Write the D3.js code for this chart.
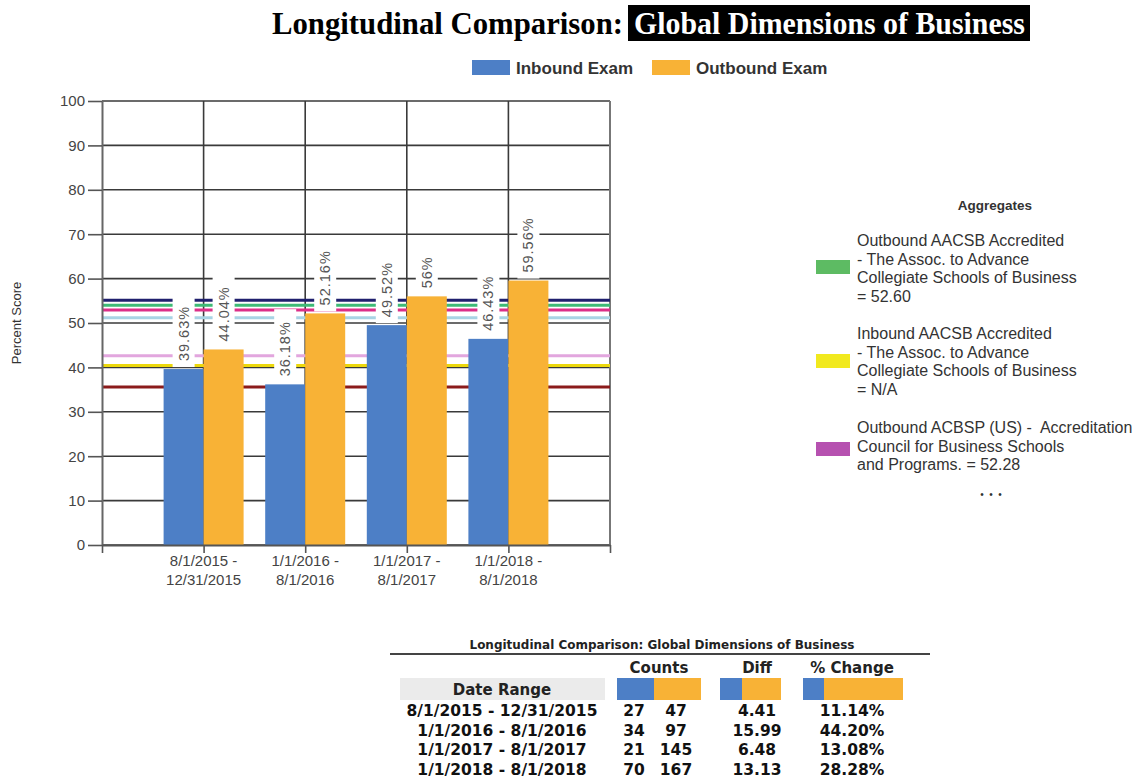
<!DOCTYPE html>
<html>
<head>
<meta charset="utf-8">
<script src="https://cdn.jsdelivr.net/npm/d3@7"></script>
<style>
  body { margin: 0; background: #fff; }
  svg { display: block; }
</style>
</head>
<body>
<svg id="chart" width="1148" height="784"></svg>
<script>
// ---- data ----
const categories = [
  ["8/1/2015 -", "12/31/2015"],
  ["1/1/2016 -", "8/1/2016"],
  ["1/1/2017 -", "8/1/2017"],
  ["1/1/2018 -", "8/1/2018"]
];
const seriesNames = ["Inbound Exam", "Outbound Exam"];
const inboundScores = [39.63, 36.18, 49.52, 46.43];
const outboundScores = [44.04, 52.16, 56, 59.56];
const yTicks = [0, 10, 20, 30, 40, 50, 60, 70, 80, 90, 100];

// aggregate reference lines
const aggregateValues = [55.1, 54.0, 52.9, 51.2, 42.6, 40.4, 35.6];

// aggregate legend (first entries of the list)
const aggregateLabels = [
  ["Outbound AACSB Accredited", "- The Assoc. to Advance", "Collegiate Schools of Business", "= 52.60"],
  ["Inbound AACSB Accredited", "- The Assoc. to Advance", "Collegiate Schools of Business", "= N/A"],
  ["Outbound ACBSP (US) -  Accreditation", "Council for Business Schools", "and Programs. = 52.28"]
];

// summary table
const tableTitle = "Longitudinal Comparison: Global Dimensions of Business";
const dateRanges = ["8/1/2015 - 12/31/2015", "1/1/2016 - 8/1/2016", "1/1/2017 - 8/1/2017", "1/1/2018 - 8/1/2018"];
const inboundCounts = [27, 34, 21, 70];
const outboundCounts = [47, 97, 145, 167];
const scoreDiffs = ["4.41", "15.99", "6.48", "13.13"];
const percentChanges = ["11.14%", "44.20%", "13.08%", "28.28%"];

// ---- styling ----
const seriesColors = ["#4d7fc6", "#f8b236"];
const aggregateColors = ["#20206e", "#3eba76", "#dc2f88", "#a8d3e4", "#e2a6de", "#ecd80c", "#8b1b1b"];
const aggregateLegendColors = ["#5dbb63", "#f1e91e", "#b651b0"];

const svg = d3.select("#chart");
svg.append("rect").attr("width", 1148).attr("height", 784).attr("fill", "#fff");

// ---- title ----
const titleY = 34;
svg.append("text")
  .attr("x", 272).attr("y", titleY)
  .attr("font-family", "Liberation Serif, Times New Roman, serif")
  .attr("font-weight", "bold").attr("font-size", 32)
  .attr("textLength", 351).attr("lengthAdjust", "spacingAndGlyphs")
  .attr("fill", "#000")
  .text("Longitudinal Comparison:");
svg.append("rect").attr("x", 628).attr("y", 5).attr("width", 402).attr("height", 36).attr("fill", "#000");
svg.append("text")
  .attr("x", 634).attr("y", titleY)
  .attr("font-family", "Liberation Serif, Times New Roman, serif")
  .attr("font-weight", "bold").attr("font-size", 32)
  .attr("textLength", 391).attr("lengthAdjust", "spacingAndGlyphs")
  .attr("fill", "#fff")
  .text("Global Dimensions of Business");

// ---- series legend ----
const legendItems = [
  { name: seriesNames[0], color: seriesColors[0], x: 472 },
  { name: seriesNames[1], color: seriesColors[1], x: 652 }
];
legendItems.forEach(d => {
  svg.append("rect").attr("x", d.x).attr("y", 60).attr("width", 38).attr("height", 15).attr("fill", d.color);
  svg.append("text").attr("x", d.x + 44).attr("y", 74)
    .attr("font-family", "Liberation Sans, Arial, sans-serif")
    .attr("font-weight", "bold").attr("font-size", 17).attr("fill", "#333")
    .text(d.name);
});

// ---- scales ----
const x = d3.scaleLinear().domain([0, categories.length + 1]).range([102, 610]);
const sub = d3.scaleBand().domain(seriesNames).range([-40, 40]);
const y = d3.scaleLinear().domain([0, 100]).range([545, 101]);

const plot = svg.append("g");

// horizontal gridlines
plot.selectAll("line.hgrid").data(yTicks).join("line")
  .attr("class", "hgrid")
  .attr("x1", x(0)).attr("x2", x(categories.length + 1))
  .attr("y1", d => y(d)).attr("y2", d => y(d))
  .attr("stroke", "#3a3a3a").attr("stroke-width", 1.6);

// vertical gridlines at each category
plot.selectAll("line.vgrid").data(d3.range(1, categories.length + 1)).join("line")
  .attr("class", "vgrid")
  .attr("x1", d => x(d)).attr("x2", d => x(d))
  .attr("y1", y(100)).attr("y2", y(0))
  .attr("stroke", "#3a3a3a").attr("stroke-width", 1.6);

// right border
plot.append("line")
  .attr("x1", x(categories.length + 1)).attr("x2", x(categories.length + 1))
  .attr("y1", y(100)).attr("y2", y(0))
  .attr("stroke", "#777").attr("stroke-width", 2);

// aggregate lines
plot.selectAll("line.agg").data(aggregateValues).join("line")
  .attr("class", "agg")
  .attr("x1", x(0)).attr("x2", x(categories.length + 1))
  .attr("y1", d => y(d)).attr("y2", d => y(d))
  .attr("stroke", (d, i) => aggregateColors[i]).attr("stroke-width", 3);

// bars
const barData = [];
categories.forEach((c, i) => {
  barData.push({ i, s: seriesNames[0], v: inboundScores[i], color: seriesColors[0] });
  barData.push({ i, s: seriesNames[1], v: outboundScores[i], color: seriesColors[1] });
});
const bw = sub.bandwidth();
plot.selectAll("rect.bar").data(barData).join("rect")
  .attr("class", "bar")
  .attr("x", d => x(d.i + 1) + sub(d.s))
  .attr("y", d => y(d.v))
  .attr("width", bw)
  .attr("height", d => y(0) - y(d.v))
  .attr("fill", d => d.color);

// axes
const yAxis = svg.append("g").attr("transform", `translate(${x(0)},0)`)
  .call(d3.axisLeft(y).tickValues(yTicks).tickSize(14).tickSizeOuter(0).tickPadding(3));
yAxis.select(".domain").attr("stroke", "#666").attr("stroke-width", 2);
yAxis.selectAll(".tick line").attr("stroke", "#555").attr("stroke-width", 1.6);
yAxis.selectAll(".tick text")
  .attr("font-family", "Liberation Sans, Arial, sans-serif").attr("font-size", 15).attr("fill", "#444");

const xAxis = svg.append("g").attr("transform", `translate(0,${y(0)})`)
  .call(d3.axisBottom(x).tickValues(d3.range(0, categories.length + 2)).tickSize(8).tickSizeOuter(0).tickFormat(""));
xAxis.select(".domain").attr("stroke", "#555").attr("stroke-width", 2);
xAxis.selectAll(".tick line").attr("stroke", "#555").attr("stroke-width", 1.6);

const xLabels = svg.append("g");
categories.forEach((lines, i) => {
  const t = xLabels.append("text")
    .attr("x", x(i + 1)).attr("y", 566)
    .attr("text-anchor", "middle")
    .attr("font-family", "Liberation Sans, Arial, sans-serif").attr("font-size", 15).attr("fill", "#444");
  lines.forEach((ln, k) => t.append("tspan").attr("x", x(i + 1)).attr("dy", k === 0 ? 0 : 19).text(ln));
});

// y-axis title
svg.append("text")
  .attr("transform", `translate(21,${(y(0) + y(100)) / 2}) rotate(-90)`)
  .attr("text-anchor", "middle")
  .attr("font-family", "Liberation Sans, Arial, sans-serif").attr("font-size", 13).attr("fill", "#333")
  .text("Percent Score");

// value labels with white boxes
const labelLayer = svg.append("g");
barData.forEach(d => {
  const cx = x(d.i + 1) + sub(d.s) + bw / 2;
  const top = y(d.v);
  const g = labelLayer.append("g");
  const box = g.append("rect").attr("fill", "#fff");
  const txt = g.append("text")
    .attr("transform", `translate(${cx},${top - 8}) rotate(-90)`)
    .attr("dy", "0.35em")
    .attr("font-family", "Liberation Sans, Arial, sans-serif").attr("font-size", 14.5)
    .attr("letter-spacing", 1).attr("fill", "#555")
    .text(`${d.v}%`);
  const len = txt.node().getComputedTextLength();
  box.attr("x", cx - 11).attr("width", 22)
    .attr("y", top - 8 - len - 12).attr("height", len + 18);
});

// ---- aggregates legend ----
const aggG = svg.append("g").attr("font-family", "Liberation Sans, Arial, sans-serif");
aggG.append("text").attr("x", 995).attr("y", 210).attr("text-anchor", "middle")
  .attr("font-weight", "bold").attr("font-size", 13.5).attr("fill", "#333").text("Aggregates");
const groupTops = [246, 339, 433];
const swatchY = [260, 354, 442];
aggregateLabels.forEach((lines, gi) => {
  aggG.append("rect").attr("x", 816).attr("y", swatchY[gi]).attr("width", 34).attr("height", 14)
    .attr("fill", aggregateLegendColors[gi]);
  lines.forEach((ln, k) => {
    aggG.append("text").attr("x", 857).attr("y", groupTops[gi] + k * 18.5)
      .attr("font-size", 16).attr("fill", "#333")
      .style("white-space", "pre").text(ln);
  });
});
aggG.append("text").attr("x", 991).attr("y", 498).attr("text-anchor", "middle")
  .attr("font-size", 10).attr("fill", "#333").style("white-space", "pre").text("•  •  •");

// ---- summary table ----
const tbl = svg.append("g").attr("font-family", "DejaVu Sans, Verdana, sans-serif").attr("font-weight", "bold");
tbl.append("text").attr("x", 662).attr("y", 649).attr("text-anchor", "middle")
  .attr("font-size", 12).attr("textLength", 385).attr("lengthAdjust", "spacingAndGlyphs")
  .attr("fill", "#222").text(tableTitle);
tbl.append("line").attr("x1", 390).attr("x2", 930).attr("y1", 654).attr("y2", 654)
  .attr("stroke", "#444").attr("stroke-width", 2);

const colCount1 = 634, colCount2 = 676, colDiff = 757, colPct = 852, colDate = 502;
[["Counts", 659], ["Diff", 757], ["% Change", 852]].forEach(([t, cx]) => {
  tbl.append("text").attr("x", cx).attr("y", 673).attr("text-anchor", "middle")
    .attr("font-size", 15).attr("fill", "#222").text(t);
});
tbl.append("rect").attr("x", 400).attr("y", 678).attr("width", 205).attr("height", 22).attr("fill", "#ebebeb");
tbl.append("text").attr("x", colDate).attr("y", 695).attr("text-anchor", "middle")
  .attr("font-size", 15).attr("fill", "#222").text("Date Range");

// colour keys under each header
[[617, 37, 47], [720, 22, 39], [803, 21, 79]].forEach(([x0, wb, wo]) => {
  tbl.append("rect").attr("x", x0).attr("y", 678).attr("width", wb).attr("height", 22).attr("fill", seriesColors[0]);
  tbl.append("rect").attr("x", x0 + wb).attr("y", 678).attr("width", wo).attr("height", 22).attr("fill", seriesColors[1]);
});

dateRanges.forEach((dr, i) => {
  const yy = 716 + i * 19.5;
  const row = [[dr, colDate], [inboundCounts[i], colCount1], [outboundCounts[i], colCount2],
               [scoreDiffs[i], colDiff], [percentChanges[i], colPct]];
  row.forEach(([t, cx]) => {
    tbl.append("text").attr("x", cx).attr("y", yy).attr("text-anchor", "middle")
      .attr("font-size", 15.5).attr("fill", "#111").text(t);
  });
});
</script>
</body>
</html>
